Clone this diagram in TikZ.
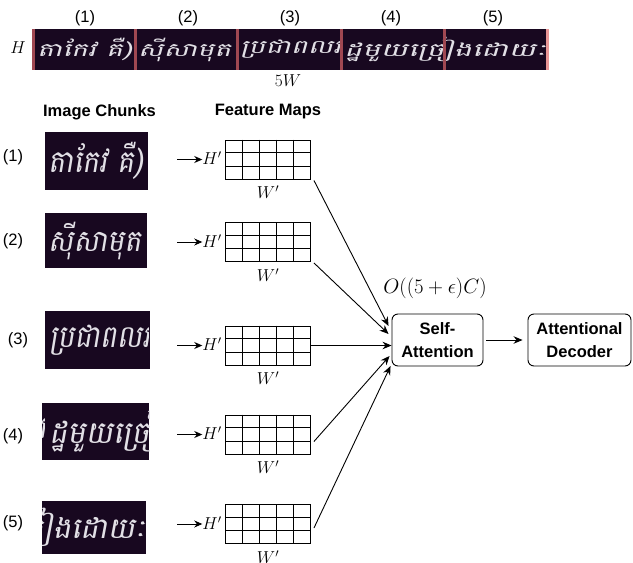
\documentclass[tikz,border=0pt]{standalone}
\usepackage{fontspec}
\usepackage{graphicx}
\setmainfont{Liberation Sans}
\newfontfamily\khfont[Script=Khmer,FakeSlant=0.18]{Battambang}
\usetikzlibrary{arrows.meta,calc}

\definecolor{chunkbg}{RGB}{24,8,32}
\definecolor{chunkfg}{RGB}{226,224,230}
\definecolor{sepred}{RGB}{160,72,82}
\definecolor{seppink}{RGB}{232,150,150}

% Khmer size chosen so that the second word is 93pt wide
\newlength\refw
\settowidth\refw{\khfont\fontsize{10pt}{12pt}\selectfont ស៊ីសាមុត}
\pgfmathsetmacro\khsize{10*93/\refw}
\newcommand\khpiece[2][1]{\scalebox{#1}[0.66]{\khfont\fontsize{\khsize pt}{\khsize pt}\selectfont\color{chunkfg}#2}}

\newsavebox\pA \sbox\pA{\khpiece{តាកែវ គឺ)}}
\newsavebox\pB \sbox\pB{\khpiece{ស៊ីសាមុត}}
\newsavebox\pC \sbox\pC{\khpiece{ប្រជាពលរ}}
\newsavebox\pD \sbox\pD{\khpiece[1.08]{ដ្ឋមួយច្រៀងដោយៈ}}

% the written line, each piece cut at its chunk border
\newcommand\stripcontent{%
  \begin{scope}\clip (33,29) rectangle (133.5,70);
    \node[piece] at (37,49.5) {\usebox\pA};\end{scope}
  \begin{scope}\clip (133.5,29) rectangle (236,70);
    \node[piece] at (138,49.5) {\usebox\pB};\end{scope}
  \begin{scope}\clip (236,29) rectangle (339.5,70);
    \node[piece] at (240,49.5) {\usebox\pC};\end{scope}
  \begin{scope}\clip (339.5,29) rectangle (546,70);
    \node[piece] at (344,49.5) {\usebox\pD};\end{scope}
}

% #1 name, #2 left, #3 top, #4 width, #5 height, #6 y-scale, #7 left of window in strip
\newcommand\chunkpic[7]{%
  \begin{scope}
    \fill[chunkbg] (#2,#3) rectangle ++(#4,#5);
    \clip (#2,#3) rectangle ++(#4,#5);
    \begin{scope}[shift={(#2-#7,#3+#5/2-49.5*#6)}, yscale=#6]
      \stripcontent
    \end{scope}
  \end{scope}
  \node[inner sep=0, minimum width=#4, minimum height=#5, anchor=north west] (#1) at (#2,#3) {};
}

% feature map grid: 5 x 3 cells
\newcommand\featmap[2]{%
  \node[fmap] (#1) at (268,#2) {};
  \foreach \i in {1,...,4}
    \draw[gridline] ($(#1.north west)!\i/5!(#1.north east)$) -- ($(#1.south west)!\i/5!(#1.south east)$);
  \foreach \j in {1,2}
    \draw[gridline] ($(#1.north west)!\j/3!(#1.south west)$) -- ($(#1.north east)!\j/3!(#1.south east)$);
}

\tikzset{
  piece/.style={inner sep=0, anchor=west, transform shape},
  lbl/.style={font=\fontsize{16.5}{19}\selectfont, inner sep=0},
  head/.style={font=\fontsize{16.5}{19}\selectfont\bfseries, inner sep=0},
  fmap/.style={draw, line width=0.9pt, minimum width=85, minimum height=39, inner sep=0},
  gridline/.style={line width=0.9pt},
  mathlbl/.style={font=\fontsize{18}{20}\selectfont, inner sep=0},
  block/.style={draw, line width=0.9pt, rounded corners=6pt, align=center,
    font=\fontsize{16.5}{23}\selectfont\bfseries, inner sep=0, minimum height=52},
  conn/.style={line width=0.9pt, -{Stealth[length=9pt,width=7.5pt]}},
}

\begin{document}
\begin{tikzpicture}[x=1pt, y=-1pt]
\useasboundingbox (0,0) rectangle (633,563);

% ---- full text line split into five chunks ----
\fill[chunkbg] (32,29) rectangle (546,70);
\stripcontent
\foreach \x in {32,133.5,236,339.5,443}
  \fill[sepred] (\x,29) rectangle ++(3,41);
\fill[seppink] (546,29) rectangle ++(3,41);

\node[lbl] (n1) at (85,18) {(1)};
\node[lbl] (n2) at (188,18) {(2)};
\node[lbl] (n3) at (290,18) {(3)};
\node[lbl] (n4) at (391,18) {(4)};
\node[lbl] (n5) at (493,18) {(5)};
\node[font=\fontsize{17}{20}\selectfont, inner sep=0] (hh) at (18,48) {$H$};
\node[font=\fontsize{19}{21}\selectfont, inner sep=0] (ww) at (288,81) {$5W$};

% ---- column headings ----
\node[head] (hc) at (99.5,112) {Image Chunks};
\node[head] (hf) at (268,112) {Feature Maps};

% ---- image chunks ----
\chunkpic{c1}{45}{132}{103}{58}{1.65}{34}
\chunkpic{c2}{45}{213}{102}{55}{1.6}{135}
\chunkpic{c3}{45}{311}{105}{58}{1.65}{236}
\chunkpic{c4}{42}{403}{107}{57}{1.65}{337}
\chunkpic{c5}{42}{501}{104}{53}{1.55}{443}

\node[lbl] (r1) at (13,157) {(1)};
\node[lbl] (r2) at (13,241) {(2)};
\node[lbl] (r3) at (18,340) {(3)};
\node[lbl] (r4) at (13,436) {(4)};
\node[lbl] (r5) at (13,523) {(5)};

% ---- feature maps ----
\featmap{fm1}{159.5}
\featmap{fm2}{242}
\featmap{fm3}{345.5}
\featmap{fm4}{434.5}
\featmap{fm5}{524}

\foreach \k in {1,...,5}{
  \node[mathlbl] (hp\k) at ($(fm\k.west)+(-13,-1)$) {$H'$};
  \node[mathlbl] (wp\k) at ($(fm\k.south)+(0,13)$) {$W'$};
  \coordinate (a\k) at ($(fm\k.west)+(-48,0)$);
  \draw[line width=0.9pt, -{Stealth[length=8pt,width=7pt]}] (a\k) -- (a\k -| hp\k.west);
}

% ---- attention blocks ----
\node[block, minimum width=91] (sa) at (437.5,340) {Self-\\Attention};
\node[block, minimum width=103] (ad) at (579.5,340) {Attentional\\Decoder};
\node[font=\fontsize{21}{24}\selectfont, inner sep=0] (cost) at (435,288) {$O((5+\epsilon)C)$};

\draw[conn] ([shift={(3,1)}]fm1.south east) -- ([shift={(-3,-14)}]sa.west);
\draw[conn] ([shift={(3,1)}]fm2.south east) -- ([shift={(-3,-6)}]sa.west);
\draw[conn] (fm3.east) -- (fm3.east -| sa.west);
\draw[conn] ([shift={(3,7)}]fm4.east) -- ([shift={(-2,16)}]sa.west);
\draw[conn] ([shift={(3,4)}]fm5.east) -- ([shift={(-1,26)}]sa.west);
\draw[conn] ([xshift=3pt]sa.east) -- ([xshift=-5pt]ad.west);
\end{tikzpicture}
\end{document}
